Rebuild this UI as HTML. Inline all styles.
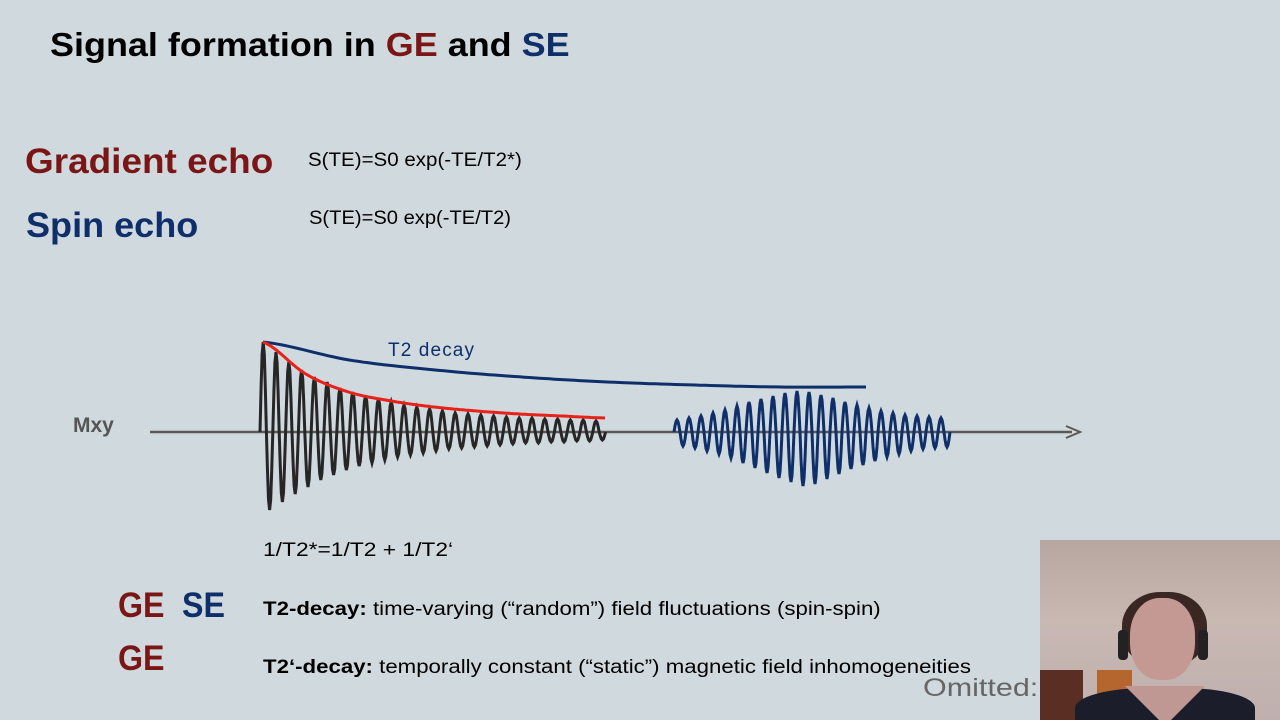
<!DOCTYPE html>
<html><head><meta charset="utf-8"><style>
body{margin:0;width:1280px;height:720px;background:#d0d9de;position:relative;overflow:hidden;font-family:"Liberation Sans",sans-serif}
.t{position:absolute;white-space:nowrap;transform-origin:0 0}
.ge{color:#7a1616}.se{color:#0e2f6a}
</style></head><body>
<div class="t" style="left:50px;top:26px;font-size:33px;font-weight:bold;color:#000;transform:scaleX(1.09)">Signal formation in <span class="ge">GE</span> and <span class="se">SE</span></div>
<div class="t ge" style="left:25px;top:142px;font-size:35px;font-weight:bold;transform:scaleX(1.055)">Gradient echo</div>
<div class="t se" style="left:26px;top:206px;font-size:35px;font-weight:bold;transform:scaleX(1.03)">Spin echo</div>
<div class="t" style="left:308px;top:150px;font-size:19px;transform:scaleX(1.08)">S(TE)=S0 exp(-TE/T2*)</div>
<div class="t" style="left:309px;top:208px;font-size:19px;transform:scaleX(1.06)">S(TE)=S0 exp(-TE/T2)</div>
<div class="t" style="left:73px;top:414px;font-size:21px;font-weight:bold;color:#555">Mxy</div>
<svg id="ch" width="1280" height="720" style="position:absolute;left:0;top:0">
<text x="388" y="356" font-size="19" fill="#0e2f6a" font-family="Liberation Sans" textLength="86">T2 decay</text>
</svg>
<div class="t" style="left:263px;top:540px;font-size:19px;transform:scaleX(1.2)">1/T2*=1/T2 + 1/T2‘</div>
<div class="t ge" style="left:118px;top:586px;font-size:35px;font-weight:bold;transform:scaleX(0.92)">GE</div>
<div class="t se" style="left:182px;top:586px;font-size:35px;font-weight:bold;transform:scaleX(0.92)">SE</div>
<div class="t ge" style="left:118px;top:639px;font-size:35px;font-weight:bold;transform:scaleX(0.92)">GE</div>
<div class="t" style="left:263px;top:599px;font-size:19px;transform:scaleX(1.17)"><b>T2-decay:</b> time-varying (“random”) field fluctuations (spin-spin)</div>
<div class="t" style="left:263px;top:657px;font-size:19px;transform:scaleX(1.17)"><b>T2‘-decay:</b> temporally constant (“static”) magnetic field inhomogeneities</div>
<div class="t" style="left:923px;top:674px;font-size:25px;color:#666;transform:scaleX(1.22)">Omitted:</div>
<div style="position:absolute;left:1040px;top:540px;width:240px;height:180px;background:linear-gradient(180deg,#b8a6a0 0%,#c9b8b2 45%,#bfb0ae 100%);overflow:hidden">
 <div style="position:absolute;left:0;top:130px;width:43px;height:50px;background:#5a2e22"></div>
 <div style="position:absolute;left:57px;top:130px;width:35px;height:25px;background:#b5652e"></div>
 <div style="position:absolute;left:82px;top:52px;width:85px;height:75px;border-radius:45%;background:#3a2622"></div>
 <div style="position:absolute;left:90px;top:58px;width:65px;height:82px;border-radius:45%;background:#c49893"></div>
 <div style="position:absolute;left:78px;top:90px;width:10px;height:30px;border-radius:4px;background:#222"></div>
 <div style="position:absolute;left:158px;top:90px;width:10px;height:30px;border-radius:4px;background:#222"></div>
 <div style="position:absolute;left:35px;top:148px;width:180px;height:50px;border-radius:40% 40% 0 0;background:#1c1d2a"></div>
 <div style="position:absolute;left:85px;top:146px;width:80px;height:40px;background:#bf9894;clip-path:polygon(0 0,100% 0,50% 100%)"></div>
</div>
<script>
const fidPos=[90,80,70,62,55,50,44,40,36,33,30,27,25,23,21,19,18,17,16,15,14,14,13,13,12,12,11];
const fidNeg=[78,70,62,55,48,43,38,34,31,28,25,23,21,19,17,16,15,14,13,12,11,11,10,10,9,9,8];
const echoPos=[12,14,16,19,22,26,30,33,36,39,41,40,37,34,30,27,24,21,19,17,16,15,14];
const echoNeg=[14,16,19,22,26,31,36,41,46,50,54,52,47,42,37,33,29,25,22,19,17,16,15];
const t2Env=[90,72,62,55,50,47,45,45];
const t2sEnv=[90,58,40,31,25,21,18,16,14];
const y0=432, NS="http://www.w3.org/2000/svg", svg=document.getElementById('ch');
function add(tag,attrs,name){const e=document.createElementNS(NS,tag);for(const k in attrs)e.setAttribute(k,attrs[k]);


svg.insertBefore(e,svg.lastElementChild);return e;}
add('line',{x1:150,y1:y0,x2:1072,y2:y0,stroke:'#595959','stroke-width':2.5},'x-axis');
add('path',{d:'M1066,426 L1080,432 L1066,438',fill:'none',stroke:'#595959','stroke-width':2},'x-axis-arrow');
function wave(x0,per,pos,neg,color,name){
 let d='M'+x0+','+y0;
 for(let i=0;i<pos.length;i++){
  for(let s=1;s<=12;s++){const t=s/12, v=Math.sin(t*2*Math.PI);
   const a=v>=0?pos[i]:neg[i];
   d+=' L'+(x0+per*(i+t)).toFixed(1)+','+(y0-v*a).toFixed(1);}
 }
 add('path',{d:d,fill:'none',stroke:color,'stroke-width':3},name);
}
wave(260,12.8,fidPos,fidNeg,'#262626','fid-signal');
wave(674,12.0,echoPos,echoNeg,'#0e2f6a','spin-echo-signal');
function env(xs,xe,vals,color,name){
 const n=vals.length-1,g=i=>vals[Math.max(0,Math.min(n,i))];let d='';
 for(let k=0;k<=120;k++){const u=k/120*n,i=Math.min(Math.floor(u),n-1),t=u-i;
  const p0=g(i-1),p1=g(i),p2=g(i+1),p3=g(i+2);
  const v=0.5*((2*p1)+(-p0+p2)*t+(2*p0-5*p1+4*p2-p3)*t*t+(-p0+3*p1-3*p2+p3)*t*t*t);
  const x=xs+(xe-xs)*k/120;d+=(k?' L':'M')+x.toFixed(1)+','+(y0-v).toFixed(1);}
 add('path',{d:d,fill:'none',stroke:color,'stroke-width':3},name);
}
env(263,866,t2Env,'#0e2f6a','t2-envelope');
env(263,605,t2sEnv,'#e8221a','t2star-envelope');
</script>
</body></html>
